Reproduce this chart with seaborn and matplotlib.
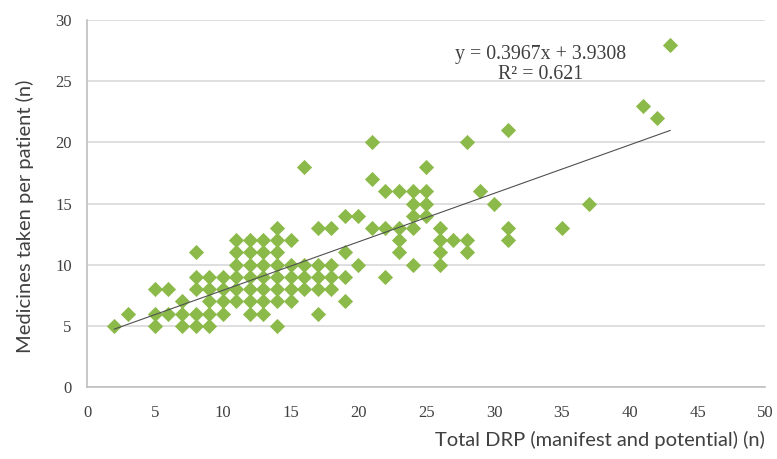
import matplotlib
matplotlib.use("Agg")
import matplotlib.pyplot as plt
import seaborn as sns
import numpy
import pandas

# total DRP (x) -> medicines taken per patient (y)
drp_cols = {
	2: [5],
	3: [6],
	5: [8, 6, 5],
	6: [8, 6],
	7: [7, 6, 5],
	8: [11, 9, 8, 6, 5],
	9: [9, 8, 7, 6, 5],
	10: [9, 8, 7, 6],
	11: [12, 11, 10, 9, 8, 7],
	12: [12, 11, 10, 9, 8, 7, 6],
	13: [12, 11, 10, 9, 8, 7, 6],
	14: [13, 12, 11, 10, 9, 8, 7, 5],
	15: [12, 10, 9, 8, 7],
	16: [18, 10, 9, 8],
	17: [13, 10, 9, 8, 6],
	18: [13, 10, 9, 8],
	19: [14, 11, 9, 7],
	20: [14, 10],
	21: [20, 17, 13],
	22: [16, 13, 9],
	23: [16, 13, 12, 11],
	24: [16, 15, 14, 13, 10],
	25: [18, 16, 15, 14],
	26: [13, 12, 11, 10],
	27: [12],
	28: [20, 12, 11],
	29: [16],
	30: [15],
	31: [21, 13, 12],
	35: [13],
	37: [15],
	41: [23],
	42: [22],
	43: [28],
}
drp = [x for x, ys in drp_cols.items() for _ in ys]
medicines = [y for ys in drp_cols.values() for y in ys]

slope = 0.3967
intercept = 3.9308
r2 = 0.621

x_ticks = list(range(0, 55, 5))
y_ticks = list(range(0, 35, 5))

df = pandas.DataFrame({'drp': drp, 'medicines': medicines})

sns.set_style('white')
fig = plt.figure(figsize=(7.77, 4.59), dpi=100)
ax = fig.add_axes([0.112, 0.157, 0.873, 0.799])

sns.scatterplot(data=df, x='drp', y='medicines', marker='D', s=60,
				color='#8BBA4B', linewidth=0, ax=ax, zorder=3)

# trend line from the equation shown on the chart
xl = numpy.array([min(drp), max(drp)])
ax.plot(xl, slope * xl + intercept, color='#505050', lw=0.8, zorder=4)

ax.set_xlim(0, 50)
ax.set_ylim(0, 30)
ax.set_xticks(x_ticks)
ax.set_yticks(y_ticks)
ax.yaxis.grid(True, color='#d9d9d9', lw=1.2)
ax.set_axisbelow(True)
for s in ['top', 'right']:
	ax.spines[s].set_visible(False)
for s in ['left', 'bottom']:
	ax.spines[s].set_color('#bfbfbf')
	ax.spines[s].set_linewidth(1.2)
ax.tick_params(length=0, labelsize=12, colors='#404040')
ax.tick_params(axis='x', pad=13)
ax.tick_params(axis='y', pad=11)
for lab in ax.get_xticklabels() + ax.get_yticklabels():
	lab.set_fontfamily('Liberation Serif')

ax.set_xlabel('')
ax.set_ylabel('')
fig.text(0.985, 0.041, 'Total DRP (manifest and potential) (n)', ha='right', va='center',
		 fontsize=14.5, family='Lato', color='#404040')
fig.text(0.032, 0.528, 'Medicines taken per patient (n)', ha='center', va='center',
		 rotation=90, fontsize=14.5, family='Lato', color='#404040')

ax.text(0.668, 0.88, f'y = {slope}x + {intercept}\nR\u00b2 = {r2}', transform=ax.transAxes,
		ha='center', va='center', fontsize=14.3, family='Liberation Serif',
		color='#404040', linespacing=1.1)

fig.savefig('out.png', dpi=100)
